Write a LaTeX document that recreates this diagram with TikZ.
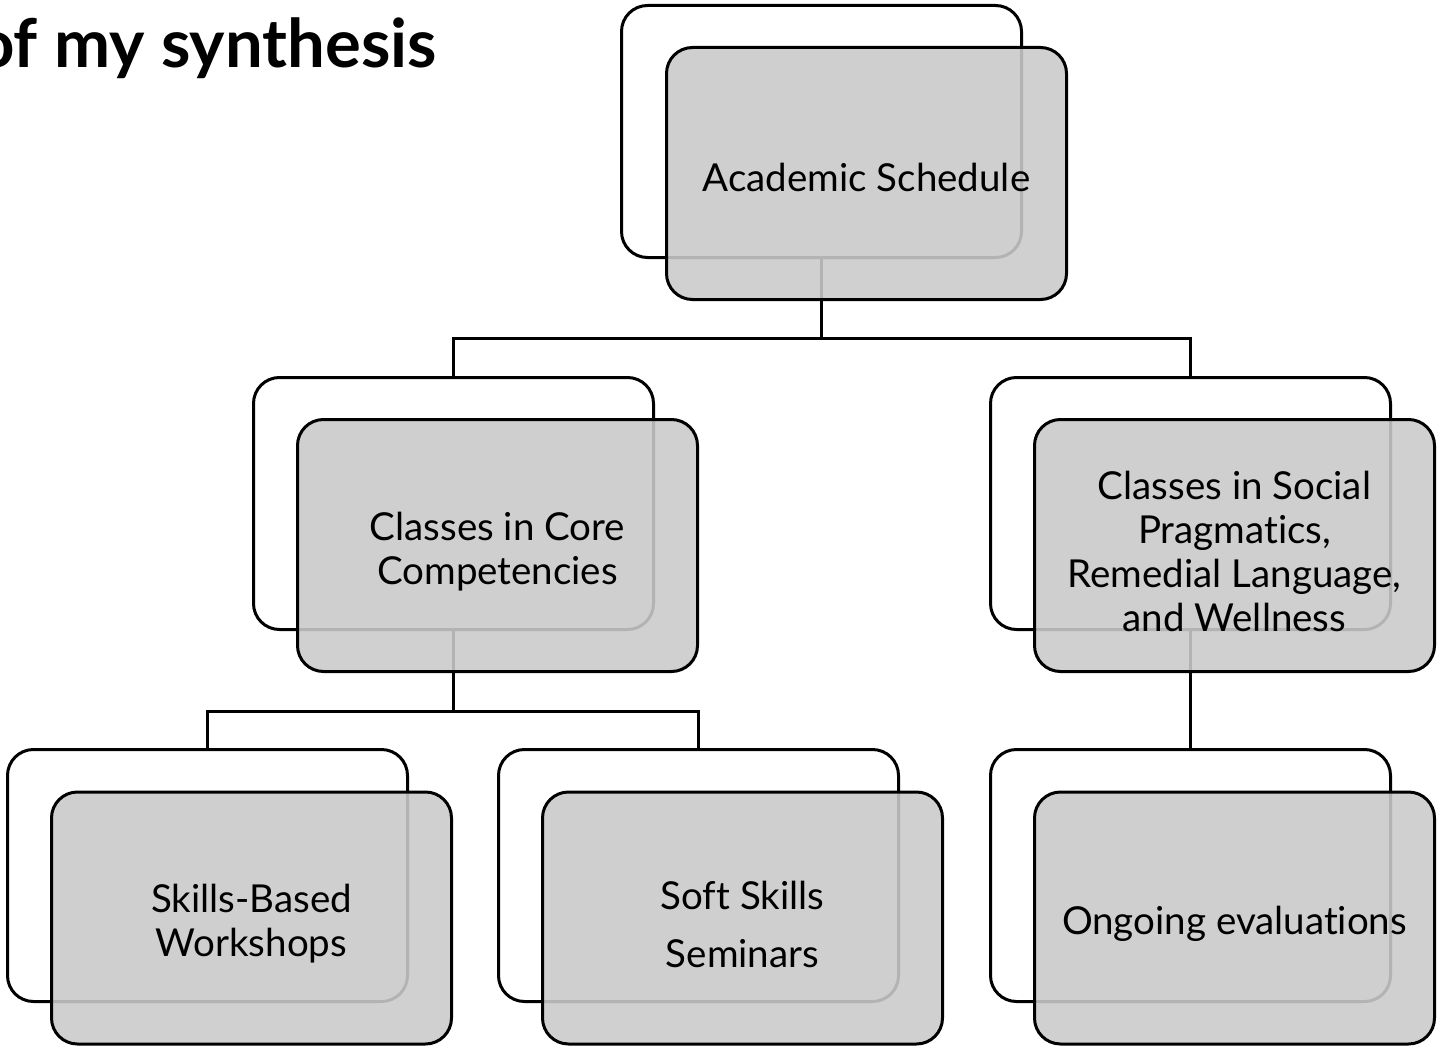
\documentclass[tikz,border=0pt]{standalone}
\usepackage{fontspec}
\setmainfont[Ligatures={NoCommon}]{Lato}
\newfontfamily\titlefont{Lato}
\definecolor{boxgray}{RGB}{202,202,202}
\tikzset{
  backbox/.style={draw=black, line width=3pt, fill=white, rounded corners=26pt, minimum width=400pt, minimum height=252pt, inner sep=0pt},
  frontbox/.style={draw=black, line width=3pt, fill=boxgray, fill opacity=0.89, rounded corners=26pt, minimum width=400pt, minimum height=252pt, inner sep=0pt},
  boxtext/.style={align=center, inner sep=0pt, font=\fontsize{38.5}{44}\selectfont, yshift=-6pt},
  link/.style={draw=black, line width=3pt},
}
\begin{document}
\begin{tikzpicture}[x=1pt,y=-1pt]
\useasboundingbox (0,0) rectangle (1441,1049);
\begin{scope}
\clip (0,0) rectangle (1441,1049);
\node[anchor=base west, inner sep=0pt, font=\titlefont\bfseries\fontsize{67}{74}\selectfont] (title) at (-24,68) {of my synthesis};
\end{scope}
% back boxes
\node[backbox] (topb) at (821.5,131.5) {};
\node[backbox] (coreb) at (453.5,503.5) {};
\node[backbox] (socb) at (1190.5,503.5) {};
\node[backbox] (skillb) at (207.5,875.5) {};
\node[backbox] (softb) at (698.5,875.5) {};
\node[backbox] (evalb) at (1190.5,875.5) {};
% connectors
\coordinate (j1) at (821.5,338);
\coordinate (j2) at (453.5,711);
\draw[link] (topb.south) -- (j1) -| (coreb.north);
\draw[link] (j1) -| (socb.north);
\draw[link] (coreb.south) -- (j2) -| (skillb.north);
\draw[link] (j2) -| (softb.north);
\draw[link] (socb.south) -- (evalb.north);
% front boxes
\node[frontbox] (topf) at (866.5,173.5) {};
\node[frontbox] (coref) at (497.5,545.5) {};
\node[frontbox] (socf) at (1234.5,545.5) {};
\node[frontbox] (skillf) at (251.5,918) {};
\node[frontbox] (softf) at (742.5,918) {};
\node[frontbox] (evalf) at (1234.5,918) {};
% texts
\node[boxtext, yshift=2pt] (topt) at (topf.center) {Academic Schedule};
\node[boxtext] (coret) at (coref.center) {Classes in Core\\Competencies};
\node[boxtext] (soct) at (socf.center) {Classes in Social\\Pragmatics,\\Remedial Language,\\and Wellness};
\node[boxtext] (skillt) at (skillf.center) {Skills-Based\\Workshops};
\node[boxtext, font=\fontsize{38.5}{58}\selectfont] (softt) at (softf.center) {Soft Skills\\Seminars};
\node[boxtext] (evalt) at (evalf.center) {Ongoing evaluations};
\end{tikzpicture}
\end{document}
